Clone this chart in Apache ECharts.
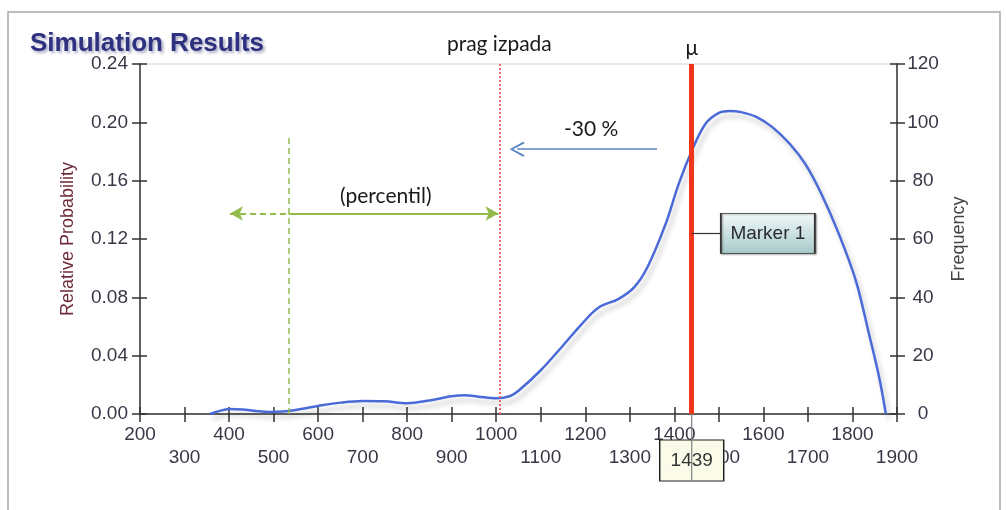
<!DOCTYPE html>
<html>
<head>
<meta charset="utf-8">
<script src="https://cdn.jsdelivr.net/npm/echarts@6/dist/echarts.min.js"></script>
<style>
  html, body { margin: 0; padding: 0; background: #ffffff; }
  #chart { width: 1006px; height: 510px; }
</style>
</head>
<body>
<div id="chart"></div>
<script>
// Simulated outcome distribution: outcome value and its relative probability
const outcomeValues = [357, 375, 400, 430, 460, 490, 520, 550, 600, 650, 700, 750, 800, 850, 900, 930, 960, 1000,
  1030, 1050, 1100, 1150, 1190, 1230, 1275, 1310, 1340, 1380, 1410, 1440, 1470, 1500, 1525, 1550, 1585,
  1620, 1660, 1695, 1730, 1770, 1808, 1837, 1860, 1875];
const relativeProbability = [0, 0.0018, 0.0034, 0.0031, 0.0021, 0.0014, 0.0017, 0.0028, 0.0055, 0.0078, 0.0090, 0.0087,
  0.0074, 0.0093, 0.0122, 0.0128, 0.0119, 0.0108, 0.0122, 0.0160, 0.0300, 0.0470, 0.0610, 0.0730, 0.0790, 0.0870,
  0.1010, 0.1300, 0.1580, 0.1810, 0.1990, 0.2065, 0.2078, 0.2070, 0.2036, 0.1967, 0.1850, 0.1710, 0.1510,
  0.1230, 0.0910, 0.0550, 0.0250, 0];

// Axis scales
const xScale = { min: 200, max: 1900, interval: 100 };
const probScale = { min: 0, max: 0.24, interval: 0.04 };
const freqScale = { min: 0, max: 120, interval: 20 };

// Key statistics
const meanValue = 1439;        // μ
const thresholdValue = 1007;   // prag izpada (30 % below μ)
const percentileValue = 534;   // percentil

// Annotation anchors, in data units (outcome, relative probability)
const percentilArrow = { from: 402, to: 1005, level: 0.1375, top: 0.1905 };
const dropArrow = { from: 1047, to: 1361, level: 0.1816 };
const dropText = { x: 1213, y: 0.1953, text: '-30 %' };
const percentilText = { x: 752, y: 0.1492, text: '(percentil)' };
const markerBox = { x: 1610, y: 0.1238, joinTo: 1505, text: 'Marker 1' };

const sans = '"Liberation Sans", Arial, sans-serif';
const calloutFont = 'Lato, "Open Sans", sans-serif';
const axisInk = '#333333';
const labelInk = '#3a3646';
const green = '#93bb4c';

const chevron = 'path://M5,0 L10,9 L9,10 L5,2.4 L1,10 L0,9 Z';

function tickAxisBase(scale) {
  return {
    type: 'value', min: scale.min, max: scale.max, interval: scale.interval,
    splitLine: { show: false }
  };
}

const chart = echarts.init(document.getElementById('chart'), null, { renderer: 'canvas' });

const option = {
  backgroundColor: '#ffffff',
  animation: false,
  title: {
    text: 'Simulation Results',
    left: 30, top: 31, padding: 0,
    textStyle: {
      fontFamily: sans, fontSize: 26, fontWeight: 'bold', color: '#2e3080',
      textShadowColor: 'rgba(80,80,130,0.5)', textShadowBlur: 3,
      textShadowOffsetX: 2, textShadowOffsetY: 2
    }
  },
  graphic: [{
    type: 'rect', silent: true, z: -1,
    shape: { x: 8, y: 12, width: 992, height: 520 },
    style: { fill: 'none', stroke: '#a8a8a8', lineWidth: 1.5 }
  }],
  grid: {
    left: 140, right: 109, top: 64, bottom: 96,
    show: true, borderColor: '#d2d2d2', borderWidth: 1, backgroundColor: 'transparent',
    containLabel: false, outerBoundsMode: 'none'
  },
  xAxis: [
    Object.assign(tickAxisBase(xScale), {
      position: 'bottom',
      axisLine: { show: true, onZero: false, lineStyle: { color: axisInk, width: 1.5 } },
      axisTick: { show: true, inside: false, length: 8, lineStyle: { color: axisInk, width: 1.5 } },
      axisLabel: {
        show: true, margin: 9, fontFamily: sans, fontSize: 19, color: labelInk, lineHeight: 23,
        showMinLabel: true, showMaxLabel: true,
        formatter: v => ((v / 100) % 2 === 0 ? String(v) : '\n' + v)
      }
    }),
    Object.assign(tickAxisBase(xScale), {
      position: 'bottom',
      axisLine: { show: false, onZero: false },
      axisTick: { show: true, inside: true, length: 7, lineStyle: { color: axisInk, width: 1.5 } },
      axisLabel: { show: false }
    })
  ],
  yAxis: [
    Object.assign(tickAxisBase(probScale), {
      position: 'left',
      name: 'Relative Probability', nameLocation: 'middle', nameGap: 63, nameRotate: 90,
      nameTextStyle: { fontFamily: sans, fontSize: 18, color: '#6e2c3c' },
      axisLine: { show: true, lineStyle: { color: axisInk, width: 1.5 } },
      axisTick: { show: true, inside: false, length: 8, lineStyle: { color: axisInk, width: 1.5 } },
      axisLabel: { show: true, margin: 12, fontFamily: sans, fontSize: 19, color: labelInk,
        formatter: v => v.toFixed(2) }
    }),
    Object.assign(tickAxisBase(freqScale), {
      position: 'right',
      name: 'Frequency', nameLocation: 'middle', nameGap: 53, nameRotate: 90,
      nameTextStyle: { fontFamily: sans, fontSize: 18, color: '#444444' },
      axisLine: { show: true, lineStyle: { color: axisInk, width: 1.5 } },
      axisTick: { show: true, inside: false, length: 8, lineStyle: { color: axisInk, width: 1.5 } },
      axisLabel: { show: true, margin: 26, align: 'center', fontFamily: sans, fontSize: 19, color: labelInk }
    }),
    Object.assign(tickAxisBase(probScale), {
      position: 'left',
      axisLine: { show: false },
      axisTick: { show: true, inside: true, length: 7, lineStyle: { color: axisInk, width: 1.5 } },
      axisLabel: { show: false }
    }),
    Object.assign(tickAxisBase(freqScale), {
      position: 'right',
      axisLine: { show: false },
      axisTick: { show: true, inside: true, length: 7, lineStyle: { color: axisInk, width: 1.5 } },
      axisLabel: { show: false }
    })
  ],
  series: [{
    type: 'line',
    name: 'Relative Probability',
    xAxisIndex: 0, yAxisIndex: 0,
    data: outcomeValues.map((x, i) => [x, relativeProbability[i]]),
    smooth: 0.35,
    showSymbol: false,
    clip: false,
    lineStyle: {
      color: '#4a6ad8', width: 2.5,
      shadowColor: 'rgba(0,0,0,0.22)', shadowBlur: 5, shadowOffsetX: 3, shadowOffsetY: 5
    },
    emphasis: { disabled: true },
    markLine: {
      silent: true,
      symbol: ['none', 'none'],
      label: { show: false },
      emphasis: { disabled: true },
      data: [
        // threshold: dotted red
        {
          xAxis: thresholdValue,
          lineStyle: { color: '#f06a6a', type: 'dotted', width: 2 },
          label: { show: true, position: 'end', distance: 9, formatter: 'prag izpada',
            fontFamily: calloutFont, fontSize: 21, color: '#1a1a1a' }
        },
        // mean: thick red
        {
          xAxis: meanValue,
          lineStyle: { color: '#f0361a', type: 'solid', width: 5 },
          label: { show: true, position: 'end', distance: 5, formatter: 'μ',
            fontFamily: calloutFont, fontSize: 21, color: '#1a1a1a' }
        },
        // percentile: dashed green
        [
          { coord: [percentileValue, probScale.min],
            lineStyle: { color: green, type: [6, 4], width: 1.5 } },
          { coord: [percentileValue, percentilArrow.top] }
        ],
        // green double arrow, dashed outer part
        [
          { coord: [percentilArrow.from, percentilArrow.level], symbol: 'arrow', symbolSize: [11, 13],
            lineStyle: { color: green, type: [6, 4], width: 2 } },
          { coord: [percentileValue, percentilArrow.level], symbol: 'none' }
        ],
        // green double arrow, solid inner part
        [
          { coord: [percentileValue, percentilArrow.level], symbol: 'none',
            lineStyle: { color: green, type: 'solid', width: 2 } },
          { coord: [percentilArrow.to, percentilArrow.level], symbol: 'arrow', symbolSize: [11, 13] }
        ],
        // blue -30 % arrow
        [
          { coord: [dropArrow.from, dropArrow.level], symbol: chevron, symbolSize: [15, 15],
            lineStyle: { color: '#5b84c4', type: 'solid', width: 1.5 } },
          { coord: [dropArrow.to, dropArrow.level], symbol: 'none' }
        ],
        // connector to the marker callout
        [
          { coord: [meanValue, markerBox.y], lineStyle: { color: '#333333', type: 'solid', width: 1.2 } },
          { coord: [markerBox.joinTo, markerBox.y] }
        ]
      ]
    },
    markPoint: {
      silent: true,
      emphasis: { disabled: true },
      data: [
        {
          coord: [dropText.x, dropText.y], symbol: 'circle', symbolSize: 1,
          itemStyle: { color: 'transparent' },
          label: { show: true, position: 'inside', formatter: dropText.text,
            fontFamily: calloutFont, fontSize: 21, color: '#1a1a1a' }
        },
        {
          coord: [percentilText.x, percentilText.y], symbol: 'circle', symbolSize: 1,
          itemStyle: { color: 'transparent' },
          label: { show: true, position: 'inside', formatter: percentilText.text,
            fontFamily: calloutFont, fontSize: 21, color: '#1a1a1a' }
        },
        {
          coord: [markerBox.x, markerBox.y], symbol: 'rect', symbolSize: [94, 40],
          itemStyle: {
            color: new echarts.graphic.LinearGradient(0, 0, 0, 1, [
              { offset: 0, color: '#f2f9f9' }, { offset: 1, color: '#a6c9c9' }
            ]),
            borderColor: '#333333', borderWidth: 1.2,
            shadowColor: 'rgba(0,0,0,0.35)', shadowBlur: 2, shadowOffsetX: 1, shadowOffsetY: 1
          },
          label: { show: true, position: 'inside', formatter: markerBox.text,
            fontFamily: sans, fontSize: 19, color: '#2a2a33' }
        },
        {
          coord: [meanValue, probScale.min], symbol: 'rect', symbolSize: [64, 41], symbolOffset: [0, 46.5],
          itemStyle: { color: '#fbfbea', borderColor: '#222222', borderWidth: 1.2 },
          label: { show: true, position: 'inside', formatter: String(meanValue),
            fontFamily: sans, fontSize: 19, color: '#333333' }
        },
        {
          coord: [meanValue, probScale.min], symbol: 'rect', symbolSize: [1.2, 67], symbolOffset: [0, 33.5],
          itemStyle: { color: '#808080' },
          label: { show: false }
        }
      ]
    }
  }]
};

chart.setOption(option);
</script>
</body>
</html>
